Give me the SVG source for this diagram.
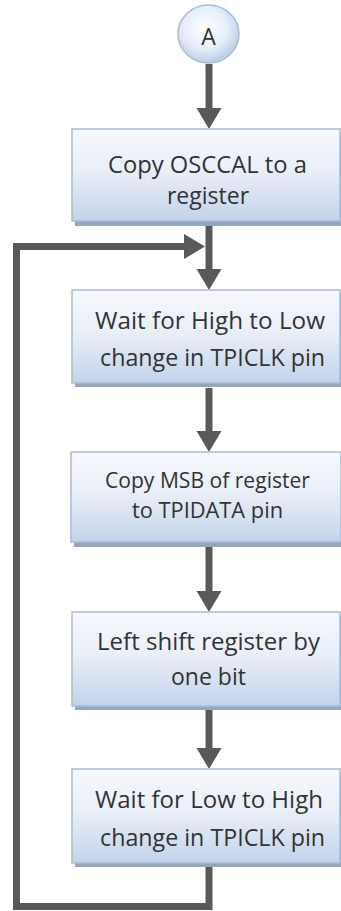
<svg xmlns="http://www.w3.org/2000/svg" width="341" height="911" viewBox="0 0 341 911">
<style>
.box{fill:url(#boxg);stroke:#a9bcd6;stroke-width:1.5}
.sh{fill:#93a5bf}
.t{font-family:"Open Sans","Noto Sans",sans-serif;font-size:23px;fill:#333;text-anchor:middle}
.t3{font-size:21px}
.c{fill:none;stroke:#595959;stroke-width:7;stroke-linejoin:miter}
</style>
<defs>
<linearGradient id="boxg" x1="0" y1="0" x2="0" y2="1">
<stop offset="0" stop-color="#f6f9fd"/>
<stop offset="0.45" stop-color="#e9eff8"/>
<stop offset="1" stop-color="#c3d3ea"/>
</linearGradient>
<radialGradient id="cg" cx="0.45" cy="0.4" r="0.6">
<stop offset="0" stop-color="#ffffff"/>
<stop offset="0.6" stop-color="#e6eef8"/>
<stop offset="1" stop-color="#b9cce4"/>
</radialGradient>
<marker id="ah" markerUnits="userSpaceOnUse" markerWidth="22" markerHeight="26" refX="3" refY="13" orient="auto">
<path d="M0,0.5 L21,13 L0,25.5 z" fill="#595959"/>
</marker>
</defs>
<g id="connectors">
<path class="c" d="M209,64 L209,111" marker-end="url(#ah)"/>
<path class="c" d="M209,222 L209,272" marker-end="url(#ah)"/>
<path class="c" d="M209,388 L209,434" marker-end="url(#ah)"/>
<path class="c" d="M209,547 L209,594" marker-end="url(#ah)"/>
<path class="c" d="M209,710 L209,751" marker-end="url(#ah)"/>
<path class="c" d="M209,866 L209,906.5 L16.5,906.5 L16.5,246.5 L187,246.5" marker-end="url(#ah)"/>
</g>
<g id="nodeA">
<ellipse cx="208.5" cy="34" rx="30.5" ry="29" fill="url(#cg)" stroke="#a9bdd6" stroke-width="1.5"/>
<text class="t" x="208.5" y="45">A</text>
</g>
<g id="node1">
<rect class="sh" x="75" y="133" width="268" height="93"/>
<rect class="box" x="72" y="129" width="268" height="92"/>
<text class="t" x="207.5" y="173" textLength="199" lengthAdjust="spacingAndGlyphs">Copy OSCCAL to a</text>
<text class="t" x="208" y="204">register</text>
</g>
<g id="node2">
<rect class="sh" x="75" y="294" width="268" height="93"/>
<rect class="box" x="72" y="290" width="268" height="93"/>
<text class="t" x="210" y="329" textLength="230" lengthAdjust="spacingAndGlyphs">Wait for High to Low</text>
<text class="t" x="212.5" y="366" textLength="225" lengthAdjust="spacingAndGlyphs">change in TPICLK pin</text>
</g>
<g id="node3">
<rect class="sh" x="74" y="456" width="270" height="91"/>
<rect class="box" x="71" y="452" width="270" height="90"/>
<text class="t t3" x="207.5" y="488" textLength="205" lengthAdjust="spacingAndGlyphs">Copy MSB of register</text>
<text class="t t3" x="207.5" y="518" textLength="151" lengthAdjust="spacingAndGlyphs">to TPIDATA pin</text>
</g>
<g id="node4">
<rect class="sh" x="75" y="616" width="268" height="94"/>
<rect class="box" x="72" y="612" width="268" height="94"/>
<text class="t" x="208.5" y="650" textLength="223" lengthAdjust="spacingAndGlyphs">Left shift register by</text>
<text class="t" x="208.5" y="685">one bit</text>
</g>
<g id="node5">
<rect class="sh" x="75" y="773" width="268" height="94"/>
<rect class="box" x="72" y="769" width="268" height="94"/>
<text class="t" x="209" y="808" textLength="228" lengthAdjust="spacingAndGlyphs">Wait for Low to High</text>
<text class="t" x="212.5" y="846" textLength="225" lengthAdjust="spacingAndGlyphs">change in TPICLK pin</text>
</g>
</svg>
